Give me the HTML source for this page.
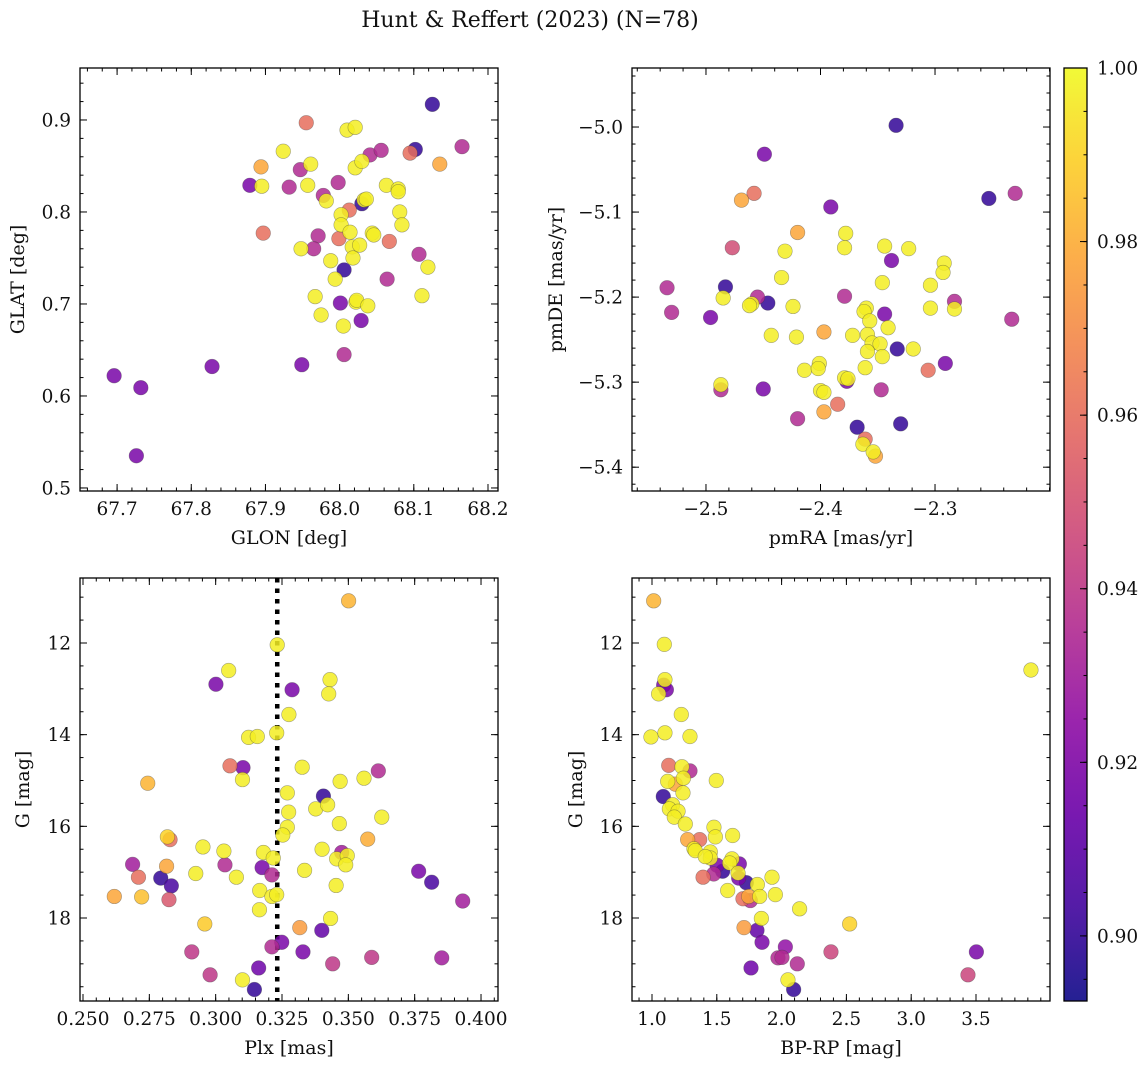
<!DOCTYPE html>
<html><head><meta charset="utf-8"><style>
body{margin:0;background:#fff;}
svg text{font-family:"DejaVu Serif","Liberation Serif",serif;fill:#111;}
</style></head><body>
<svg id="fig" width="1148" height="1068" viewBox="0 0 1148 1068" xmlns="http://www.w3.org/2000/svg">
<text x="530" y="27" text-anchor="middle" font-size="22">Hunt &amp; Reffert (2023) (N=78)</text>
</svg>
<script>
// ---- Data ----
const tlGlon=[67.696,67.732,67.726,67.828,67.879,67.897,67.894,67.895,67.924,67.932,67.947,67.948,67.949,67.955,67.957,67.961,67.967,67.971,67.965,67.975,67.978,67.982,67.988,67.994,67.998,67.999,68.002,68.001,68.005,68.006,68.006,68.002,68.010,68.013,68.014,68.017,68.018,68.021,68.021,68.022,68.023,68.027,68.030,68.030,68.029,68.033,68.036,68.038,68.041,68.044,68.046,68.056,68.063,68.064,68.067,68.079,68.079,68.081,68.084,68.095,68.102,68.107,68.111,68.119,68.125,68.135,68.165];
const tlGlat=[0.622,0.609,0.535,0.632,0.829,0.777,0.849,0.828,0.866,0.827,0.846,0.760,0.634,0.897,0.829,0.852,0.708,0.774,0.760,0.688,0.818,0.812,0.747,0.727,0.832,0.771,0.797,0.701,0.676,0.737,0.645,0.786,0.889,0.802,0.778,0.762,0.750,0.892,0.848,0.702,0.704,0.764,0.809,0.855,0.682,0.813,0.814,0.698,0.862,0.777,0.775,0.867,0.829,0.727,0.768,0.825,0.822,0.800,0.786,0.864,0.868,0.754,0.709,0.740,0.917,0.852,0.871];
const tlProb=[.918,.918,.918,.918,.918,.960,.978,.997,.997,.935,.935,.997,.918,.960,.997,.997,.997,.935,.935,.997,.935,.997,.997,.997,.935,.960,.997,.918,.997,.900,.935,.997,.997,.960,.997,.997,.997,.997,.997,.997,.997,.997,.900,.997,.918,.997,.997,.997,.935,.997,.997,.935,.997,.935,.960,.997,.997,.997,.997,.960,.900,.935,.997,.997,.900,.978,.935];

const trPmra=[-2.334,-2.449,-2.458,-2.469,-2.253,-2.230,-2.391,-2.420,-2.378,-2.379,-2.477,-2.431,-2.344,-2.323,-2.338,-2.292,-2.293,-2.434,-2.346,-2.304,-2.534,-2.483,-2.485,-2.455,-2.460,-2.462,-2.446,-2.379,-2.283,-2.283,-2.304,-2.424,-2.530,-2.496,-2.360,-2.362,-2.344,-2.357,-2.341,-2.233,-2.397,-2.443,-2.421,-2.372,-2.359,-2.355,-2.348,-2.359,-2.333,-2.319,-2.346,-2.291,-2.306,-2.361,-2.414,-2.401,-2.402,-2.487,-2.487,-2.450,-2.379,-2.377,-2.376,-2.400,-2.397,-2.347,-2.385,-2.397,-2.420,-2.368,-2.330,-2.361,-2.363,-2.352,-2.354];
const trPmde=[-4.998,-5.032,-5.078,-5.086,-5.084,-5.078,-5.094,-5.124,-5.125,-5.142,-5.142,-5.146,-5.140,-5.143,-5.157,-5.160,-5.171,-5.177,-5.183,-5.186,-5.189,-5.188,-5.201,-5.200,-5.208,-5.210,-5.207,-5.199,-5.205,-5.214,-5.213,-5.211,-5.218,-5.224,-5.213,-5.217,-5.220,-5.228,-5.236,-5.226,-5.241,-5.245,-5.247,-5.245,-5.244,-5.254,-5.255,-5.264,-5.261,-5.261,-5.270,-5.278,-5.286,-5.283,-5.286,-5.278,-5.284,-5.303,-5.309,-5.308,-5.295,-5.299,-5.296,-5.310,-5.312,-5.309,-5.326,-5.335,-5.343,-5.353,-5.349,-5.367,-5.373,-5.387,-5.382];
const trProb=[.900,.918,.960,.978,.900,.935,.918,.978,.997,.997,.948,.997,.997,.997,.918,.997,.997,.997,.997,.997,.935,.900,.997,.935,.997,.997,.900,.935,.935,.997,.997,.997,.935,.918,.997,.997,.918,.997,.997,.935,.978,.997,.997,.997,.997,.997,.997,.997,.900,.997,.997,.918,.960,.997,.997,.997,.997,.997,.935,.918,.997,.918,.997,.997,.997,.935,.960,.978,.935,.900,.900,.960,.997,.978,.997];

const blPlx=[0.3501,0.3232,0.3049,0.3001,0.3288,0.3431,0.3426,0.3276,0.3124,0.3157,0.3230,0.3054,0.3103,0.3101,0.2744,0.3326,0.3613,0.3406,0.3270,0.3469,0.3559,0.3377,0.3422,0.3275,0.3466,0.3626,0.3270,0.3253,0.2818,0.2828,0.3573,0.2952,0.3031,0.3180,0.3217,0.3401,0.3475,0.3456,0.3496,0.3490,0.2687,0.3035,0.3175,0.3212,0.2815,0.2925,0.3078,0.3335,0.2709,0.2793,0.2833,0.3765,0.3814,0.3454,0.3166,0.3212,0.3230,0.2618,0.2721,0.2824,0.3931,0.3165,0.3433,0.2959,0.3317,0.3400,0.3249,0.3212,0.3329,0.2910,0.3588,0.3852,0.3441,0.3162,0.2979,0.3101,0.3146];
const blG=[11.08,12.04,12.60,12.90,13.02,12.80,13.11,13.56,14.06,14.04,13.96,14.68,14.72,14.98,15.06,14.71,14.79,15.34,15.27,15.02,14.95,15.62,15.53,15.69,15.94,15.80,16.02,16.19,16.23,16.29,16.28,16.45,16.54,16.57,16.69,16.50,16.57,16.71,16.64,16.84,16.83,16.84,16.90,17.06,16.87,17.03,17.11,16.96,17.11,17.13,17.30,16.98,17.22,17.29,17.40,17.53,17.49,17.53,17.54,17.60,17.63,17.82,18.01,18.13,18.21,18.27,18.53,18.63,18.74,18.74,18.86,18.87,19.00,19.09,19.24,19.35,19.56];
const blProb=[.982,.997,.997,.918,.918,.997,.997,.997,.997,.997,.997,.960,.918,.997,.982,.997,.935,.900,.997,.997,.997,.997,.997,.997,.997,.997,.997,.997,.990,.960,.980,.997,.997,.997,.997,.997,.930,.997,.997,.997,.930,.935,.918,.935,.978,.997,.997,.997,.960,.900,.905,.918,.905,.997,.997,.997,.997,.978,.985,.952,.930,.997,.997,.988,.975,.912,.918,.935,.918,.940,.940,.930,.940,.915,.940,.997,.900];

const brBprp=[1.013,1.095,3.924,1.100,1.090,1.111,1.051,1.226,0.992,1.100,1.293,1.129,1.231,1.293,1.242,1.121,1.180,1.496,1.239,1.087,1.159,1.134,1.201,1.172,1.257,1.478,1.489,1.622,1.275,1.368,1.324,1.334,1.450,1.450,1.411,1.617,1.674,1.502,1.545,1.476,1.394,1.599,1.664,1.669,1.728,1.813,1.926,1.584,1.702,1.759,1.746,1.831,1.952,2.139,1.844,2.525,1.710,1.810,1.849,2.029,1.972,2.003,2.121,2.381,3.503,3.438,1.764,2.049,2.093];
const brG=[11.08,12.03,12.59,12.80,12.92,13.02,13.11,13.56,14.05,13.96,14.04,14.67,14.70,14.79,14.95,15.02,15.08,15.00,15.27,15.35,15.53,15.62,15.67,15.80,15.95,16.02,16.23,16.20,16.29,16.29,16.49,16.53,16.56,16.69,16.66,16.71,16.82,16.85,16.98,17.04,17.11,16.80,17.02,17.13,17.23,17.27,17.11,17.40,17.58,17.62,17.53,17.53,17.49,17.80,18.01,18.13,18.21,18.27,18.53,18.63,18.87,18.86,19.00,18.74,18.74,19.24,19.09,19.35,19.56];
const brProb=[.982,.997,.997,.997,.918,.918,.997,.997,.997,.997,.997,.960,.997,.935,.997,.997,.978,.997,.997,.900,.997,.997,.997,.997,.997,.997,.997,.997,.978,.960,.997,.997,.997,.997,.997,.997,.918,.918,.900,.935,.960,.997,.997,.918,.900,.997,.997,.997,.960,.935,.978,.997,.997,.997,.997,.990,.975,.912,.918,.925,.935,.935,.935,.945,.918,.945,.915,.997,.900];

const glonTicks=[67.7,67.8,67.9,68.0,68.1,68.2];
const glatTicks=[0.5,0.6,0.7,0.8,0.9];
const pmraTicks=[-2.5,-2.4,-2.3];
const pmdeTicks=[-5.0,-5.1,-5.2,-5.3,-5.4];
const plxTicks=[0.250,0.275,0.300,0.325,0.350,0.375,0.400];
const gTicks=[12,14,16,18];
const bprpTicks=[1.0,1.5,2.0,2.5,3.0,3.5];
const cbTicks=[0.90,0.92,0.94,0.96,0.98,1.00];
const plxRef=0.3232;

// ---- Rendering ----
const NS="http://www.w3.org/2000/svg";
const svg=document.getElementById('fig');
const TICKFS=18.5, LABFS=19;
function mk(tag,attrs,parent){const e=document.createElementNS(NS,tag);for(const k in attrs)e.setAttribute(k,attrs[k]);(parent||svg).appendChild(e);return e;}
const plasma=[[13,8,135],[65,4,157],[106,0,168],[143,13,164],[177,42,144],[204,71,120],[225,100,98],[242,132,75],[252,166,54],[252,206,37],[240,249,33]];
const PMIN=0.8925,PMAX=1.0;
function cmap(p){let t=(p-PMIN)/(PMAX-PMIN);t=Math.max(0,Math.min(1,t));const f=t*10,i=Math.min(9,Math.floor(f)),r=f-i;const a=plasma[i],b=plasma[i+1];return 'rgb('+a.map((v,k)=>Math.round(v+(b[k]-v)*r)).join(',')+')';}

function panel(cfg){
  const {x0,y0,w,h,xmin,xmax,ymin,ymax,name}=cfg;
  const sx=v=>x0+(v-xmin)/(xmax-xmin)*w;
  const sy=v=>y0+h-(v-ymin)/(ymax-ymin)*h;
  const g=mk('g',{});
  
  
  const clipId=name+'-clip';
  const cp=mk('clipPath',{id:clipId},g);mk('rect',{x:x0,y:y0,width:w,height:h},cp);
  const pts=mk('g',{'clip-path':'url(#'+clipId+')'},g);
  
  
  if(cfg.vline!==undefined){
    const l=mk('line',{x1:sx(cfg.vline),x2:sx(cfg.vline),y1:y0,y2:y0+h,stroke:'#000','stroke-width':4.5,'stroke-dasharray':'4.5,6'},pts);
    
    
  }
  const n=Math.min(cfg.xs.length,cfg.ys.length,cfg.ps.length);
  const idx=[];for(let i=0;i<n;i++)idx.push(i);
  idx.sort((a,b)=>cfg.ps[a]-cfg.ps[b]);
  idx.forEach(i=>{
    const c=mk('circle',{cx:sx(cfg.xs[i]),cy:sy(cfg.ys[i]),r:7.3,fill:cmap(cfg.ps[i]),'fill-opacity':0.85,stroke:'rgba(60,60,60,0.45)','stroke-width':0.6},pts);
    
    
  });
  const tk=mk('g',{stroke:'#000','stroke-width':1},g);
  const lo=Math.min(xmin,xmax),hi=Math.max(xmin,xmax);
  for(let v=Math.ceil(lo/cfg.xminor-1e-6)*cfg.xminor;v<=hi+1e-9;v+=cfg.xminor){const X=sx(v);mk('line',{x1:X,x2:X,y1:y0+h,y2:y0+h-3.5},tk);mk('line',{x1:X,x2:X,y1:y0,y2:y0+3.5},tk);}
  const ylo=Math.min(ymin,ymax),yhi=Math.max(ymin,ymax);
  for(let v=Math.ceil(ylo/cfg.yminor-1e-6)*cfg.yminor;v<=yhi+1e-9;v+=cfg.yminor){const Y=sy(v);mk('line',{x1:x0,x2:x0+3.5,y1:Y,y2:Y},tk);mk('line',{x1:x0+w,x2:x0+w-3.5,y1:Y,y2:Y},tk);}
  cfg.xt.forEach(v=>{const X=sx(v);mk('line',{x1:X,x2:X,y1:y0+h,y2:y0+h-7},tk);mk('line',{x1:X,x2:X,y1:y0,y2:y0+7},tk);
    const t=mk('text',{x:X,y:y0+h+24,'text-anchor':'middle','font-size':TICKFS},g);t.textContent=v.toFixed(cfg.xd).replace('-','\u2212');
    
    });
  cfg.yt.forEach(v=>{const Y=sy(v);mk('line',{x1:x0,x2:x0+7,y1:Y,y2:Y},tk);mk('line',{x1:x0+w,x2:x0+w-7,y1:Y,y2:Y},tk);
    const t=mk('text',{x:x0-9,y:Y+6.5,'text-anchor':'end','font-size':TICKFS},g);t.textContent=v.toFixed(cfg.yd).replace('-','\u2212');
    
    });
  mk('rect',{x:x0,y:y0,width:w,height:h,fill:'none',stroke:'#000','stroke-width':1.3},g);
  const xl=mk('text',{x:x0+w/2,y:y0+h+53,'text-anchor':'middle','font-size':LABFS},g);xl.textContent=cfg.xlabel;
  
  
  const yx=cfg.ylx;const yy=y0+h/2;
  const yl=mk('text',{x:yx,y:yy,'text-anchor':'middle','font-size':LABFS,transform:'rotate(-90 '+yx+' '+yy+')'},g);yl.textContent=cfg.ylabel;
  
  
}

panel({name:'glon-glat',x0:80,y0:68,w:418,h:423,xmin:67.65,xmax:68.2135,ymin:0.4967,ymax:0.9565,xs:tlGlon,ys:tlGlat,ps:tlProb,xt:glonTicks,yt:glatTicks,xd:1,yd:1,xminor:0.02,yminor:0.02,xlabel:'GLON [deg]',ylabel:'GLAT [deg]',ylx:24});
panel({name:'pmra-pmde',x0:632,y0:68,w:418,h:423,xmin:-2.5646,xmax:-2.1996,ymin:-5.428,ymax:-4.9306,xs:trPmra,ys:trPmde,ps:trProb,xt:pmraTicks,yt:pmdeTicks,xd:1,yd:1,xminor:0.02,yminor:0.02,xlabel:'pmRA [mas/yr]',ylabel:'pmDE [mas/yr]',ylx:562});
panel({name:'plx-g',x0:80,y0:578,w:418,h:423,xmin:0.24887,xmax:0.4064,ymin:19.811,ymax:10.582,xs:blPlx,ys:blG,ps:blProb,xt:plxTicks,yt:gTicks,xd:3,yd:0,xminor:0.005,yminor:0.5,xlabel:'Plx [mas]',ylabel:'G [mag]',ylx:29,vline:plxRef});
panel({name:'bprp-g',x0:632,y0:578,w:418,h:423,xmin:0.8457,xmax:4.071,ymin:19.811,ymax:10.582,xs:brBprp,ys:brG,ps:brProb,xt:bprpTicks,yt:gTicks,xd:1,yd:0,xminor:0.1,yminor:0.5,xlabel:'BP-RP [mag]',ylabel:'G [mag]',ylx:582});

// colorbar
(function(){
  const x0=1064,y0=68,w=23,h=933;
  const cb=mk('g',{});
  
  
  const defs=mk('defs',{},cb);
  const lg=mk('linearGradient',{id:'cbg',x1:0,y1:1,x2:0,y2:0},defs);
  for(let i=0;i<=20;i++){const p=PMIN+(PMAX-PMIN)*i/20;mk('stop',{offset:(i/20),'stop-color':cmap(p)},lg);}
  mk('rect',{x:x0,y:y0,width:w,height:h,fill:'url(#cbg)','fill-opacity':0.9},cb);
  const sy=v=>y0+h-(v-PMIN)/(PMAX-PMIN)*h;
  for(let v=0.895;v<=1.0001;v+=0.005){const Y=sy(v);mk('line',{x1:x0+w,x2:x0+w-3.5,y1:Y,y2:Y,stroke:'#000'},cb);}
  cbTicks.forEach(v=>{const Y=sy(v);mk('line',{x1:x0+w,x2:x0+w-7,y1:Y,y2:Y,stroke:'#000'},cb);
    const t=mk('text',{x:x0+w+10,y:Y+6.5,'font-size':TICKFS},cb);t.textContent=v.toFixed(2);
    
    });
  mk('rect',{x:x0,y:y0,width:w,height:h,fill:'none',stroke:'#000','stroke-width':1.3},cb);
})();
</script>
</body></html>
